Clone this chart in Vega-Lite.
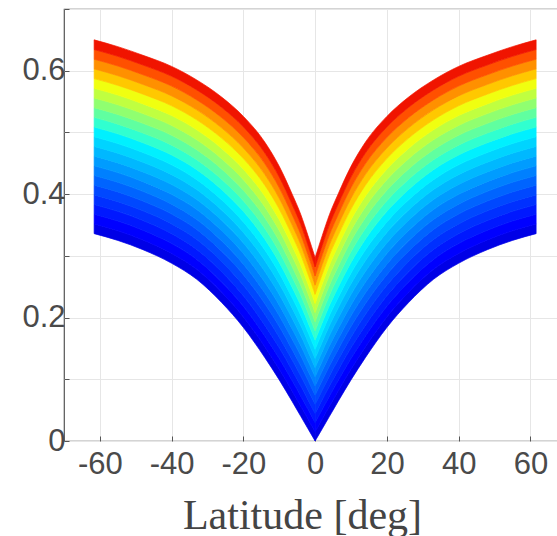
{
  "$schema": "https://vega.github.io/schema/vega-lite/v6.json",
  "width": 494,
  "height": 432,
  "autosize": {"type": "none"},
  "padding": {"left": 64, "top": 9, "right": 0, "bottom": 95},
  "background": "white",
  "config": {
    "view": {"stroke": "#555555", "strokeWidth": 1.2},
    "axis": {
      "labelFont": "Liberation Sans",
      "labelFontSize": 31,
      "labelColor": "#4a4a4a",
      "gridColor": "#e6e6e6",
      "gridWidth": 1,
      "domain": false,
      "tickColor": "#555555",
      "tickSize": -5
    }
  },
  "datasets": {
    "R": [
      {"x":0,"k":0,"v":0},{"x":0,"k":1,"v":0.01485},{"x":0,"k":2,"v":0.01485},{"x":0,"k":3,"v":0.01485},{"x":0,"k":4,"v":0.01485},{"x":0,"k":5,"v":0.01485},{"x":0,"k":6,"v":0.01485},{"x":0,"k":7,"v":0.01485},{"x":0,"k":8,"v":0.01485},{"x":0,"k":9,"v":0.01485},{"x":0,"k":10,"v":0.01485},{"x":0,"k":11,"v":0.01485},{"x":0,"k":12,"v":0.01485},{"x":0,"k":13,"v":0.01485},{"x":0,"k":14,"v":0.01485},{"x":0,"k":15,"v":0.01485},{"x":0,"k":16,"v":0.01485},{"x":0,"k":17,"v":0.01485},{"x":0,"k":18,"v":0.01485},{"x":0,"k":19,"v":0.01485},{"x":0,"k":20,"v":0.01485},
      {"x":2,"k":0,"v":0.02},{"x":2,"k":1,"v":0.01565},{"x":2,"k":2,"v":0.01565},{"x":2,"k":3,"v":0.01565},{"x":2,"k":4,"v":0.01565},{"x":2,"k":5,"v":0.01565},{"x":2,"k":6,"v":0.01565},{"x":2,"k":7,"v":0.01565},{"x":2,"k":8,"v":0.01565},{"x":2,"k":9,"v":0.01565},{"x":2,"k":10,"v":0.01565},{"x":2,"k":11,"v":0.01565},{"x":2,"k":12,"v":0.01565},{"x":2,"k":13,"v":0.01565},{"x":2,"k":14,"v":0.01565},{"x":2,"k":15,"v":0.01565},{"x":2,"k":16,"v":0.01565},{"x":2,"k":17,"v":0.01565},{"x":2,"k":18,"v":0.01565},{"x":2,"k":19,"v":0.01565},{"x":2,"k":20,"v":0.01565},
      {"x":4,"k":0,"v":0.04},{"x":4,"k":1,"v":0.01635},{"x":4,"k":2,"v":0.01635},{"x":4,"k":3,"v":0.01635},{"x":4,"k":4,"v":0.01635},{"x":4,"k":5,"v":0.01635},{"x":4,"k":6,"v":0.01635},{"x":4,"k":7,"v":0.01635},{"x":4,"k":8,"v":0.01635},{"x":4,"k":9,"v":0.01635},{"x":4,"k":10,"v":0.01635},{"x":4,"k":11,"v":0.01635},{"x":4,"k":12,"v":0.01635},{"x":4,"k":13,"v":0.01635},{"x":4,"k":14,"v":0.01635},{"x":4,"k":15,"v":0.01635},{"x":4,"k":16,"v":0.01635},{"x":4,"k":17,"v":0.01635},{"x":4,"k":18,"v":0.01635},{"x":4,"k":19,"v":0.01635},{"x":4,"k":20,"v":0.01635},
      {"x":6.4,"k":0,"v":0.064},{"x":6.4,"k":1,"v":0.0168},{"x":6.4,"k":2,"v":0.0168},{"x":6.4,"k":3,"v":0.0168},{"x":6.4,"k":4,"v":0.0168},{"x":6.4,"k":5,"v":0.0168},{"x":6.4,"k":6,"v":0.0168},{"x":6.4,"k":7,"v":0.0168},{"x":6.4,"k":8,"v":0.0168},{"x":6.4,"k":9,"v":0.0168},{"x":6.4,"k":10,"v":0.0168},{"x":6.4,"k":11,"v":0.0168},{"x":6.4,"k":12,"v":0.0168},{"x":6.4,"k":13,"v":0.0168},{"x":6.4,"k":14,"v":0.0168},{"x":6.4,"k":15,"v":0.0168},{"x":6.4,"k":16,"v":0.0168},{"x":6.4,"k":17,"v":0.0168},{"x":6.4,"k":18,"v":0.0168},{"x":6.4,"k":19,"v":0.0168},{"x":6.4,"k":20,"v":0.0168},
      {"x":10,"k":0,"v":0.099},{"x":10,"k":1,"v":0.0173},{"x":10,"k":2,"v":0.0173},{"x":10,"k":3,"v":0.0173},{"x":10,"k":4,"v":0.0173},{"x":10,"k":5,"v":0.0173},{"x":10,"k":6,"v":0.0173},{"x":10,"k":7,"v":0.0173},{"x":10,"k":8,"v":0.0173},{"x":10,"k":9,"v":0.0173},{"x":10,"k":10,"v":0.0173},{"x":10,"k":11,"v":0.0173},{"x":10,"k":12,"v":0.0173},{"x":10,"k":13,"v":0.0173},{"x":10,"k":14,"v":0.0173},{"x":10,"k":15,"v":0.0173},{"x":10,"k":16,"v":0.0173},{"x":10,"k":17,"v":0.0173},{"x":10,"k":18,"v":0.0173},{"x":10,"k":19,"v":0.0173},{"x":10,"k":20,"v":0.0173},
      {"x":14,"k":0,"v":0.135},{"x":14,"k":1,"v":0.01745},{"x":14,"k":2,"v":0.01745},{"x":14,"k":3,"v":0.01745},{"x":14,"k":4,"v":0.01745},{"x":14,"k":5,"v":0.01745},{"x":14,"k":6,"v":0.01745},{"x":14,"k":7,"v":0.01745},{"x":14,"k":8,"v":0.01745},{"x":14,"k":9,"v":0.01745},{"x":14,"k":10,"v":0.01745},{"x":14,"k":11,"v":0.01745},{"x":14,"k":12,"v":0.01745},{"x":14,"k":13,"v":0.01745},{"x":14,"k":14,"v":0.01745},{"x":14,"k":15,"v":0.01745},{"x":14,"k":16,"v":0.01745},{"x":14,"k":17,"v":0.01745},{"x":14,"k":18,"v":0.01745},{"x":14,"k":19,"v":0.01745},{"x":14,"k":20,"v":0.01745},
      {"x":20,"k":0,"v":0.184},{"x":20,"k":1,"v":0.0171},{"x":20,"k":2,"v":0.0171},{"x":20,"k":3,"v":0.0171},{"x":20,"k":4,"v":0.0171},{"x":20,"k":5,"v":0.0171},{"x":20,"k":6,"v":0.0171},{"x":20,"k":7,"v":0.0171},{"x":20,"k":8,"v":0.0171},{"x":20,"k":9,"v":0.0171},{"x":20,"k":10,"v":0.0171},{"x":20,"k":11,"v":0.0171},{"x":20,"k":12,"v":0.0171},{"x":20,"k":13,"v":0.0171},{"x":20,"k":14,"v":0.0171},{"x":20,"k":15,"v":0.0171},{"x":20,"k":16,"v":0.0171},{"x":20,"k":17,"v":0.0171},{"x":20,"k":18,"v":0.0171},{"x":20,"k":19,"v":0.0171},{"x":20,"k":20,"v":0.0171},
      {"x":26,"k":0,"v":0.224},{"x":26,"k":1,"v":0.01665},{"x":26,"k":2,"v":0.01665},{"x":26,"k":3,"v":0.01665},{"x":26,"k":4,"v":0.01665},{"x":26,"k":5,"v":0.01665},{"x":26,"k":6,"v":0.01665},{"x":26,"k":7,"v":0.01665},{"x":26,"k":8,"v":0.01665},{"x":26,"k":9,"v":0.01665},{"x":26,"k":10,"v":0.01665},{"x":26,"k":11,"v":0.01665},{"x":26,"k":12,"v":0.01665},{"x":26,"k":13,"v":0.01665},{"x":26,"k":14,"v":0.01665},{"x":26,"k":15,"v":0.01665},{"x":26,"k":16,"v":0.01665},{"x":26,"k":17,"v":0.01665},{"x":26,"k":18,"v":0.01665},{"x":26,"k":19,"v":0.01665},{"x":26,"k":20,"v":0.01665},
      {"x":33,"k":0,"v":0.262},{"x":33,"k":1,"v":0.01615},{"x":33,"k":2,"v":0.01615},{"x":33,"k":3,"v":0.01615},{"x":33,"k":4,"v":0.01615},{"x":33,"k":5,"v":0.01615},{"x":33,"k":6,"v":0.01615},{"x":33,"k":7,"v":0.01615},{"x":33,"k":8,"v":0.01615},{"x":33,"k":9,"v":0.01615},{"x":33,"k":10,"v":0.01615},{"x":33,"k":11,"v":0.01615},{"x":33,"k":12,"v":0.01615},{"x":33,"k":13,"v":0.01615},{"x":33,"k":14,"v":0.01615},{"x":33,"k":15,"v":0.01615},{"x":33,"k":16,"v":0.01615},{"x":33,"k":17,"v":0.01615},{"x":33,"k":18,"v":0.01615},{"x":33,"k":19,"v":0.01615},{"x":33,"k":20,"v":0.01615},
      {"x":40,"k":0,"v":0.288},{"x":40,"k":1,"v":0.01595},{"x":40,"k":2,"v":0.01595},{"x":40,"k":3,"v":0.01595},{"x":40,"k":4,"v":0.01595},{"x":40,"k":5,"v":0.01595},{"x":40,"k":6,"v":0.01595},{"x":40,"k":7,"v":0.01595},{"x":40,"k":8,"v":0.01595},{"x":40,"k":9,"v":0.01595},{"x":40,"k":10,"v":0.01595},{"x":40,"k":11,"v":0.01595},{"x":40,"k":12,"v":0.01595},{"x":40,"k":13,"v":0.01595},{"x":40,"k":14,"v":0.01595},{"x":40,"k":15,"v":0.01595},{"x":40,"k":16,"v":0.01595},{"x":40,"k":17,"v":0.01595},{"x":40,"k":18,"v":0.01595},{"x":40,"k":19,"v":0.01595},{"x":40,"k":20,"v":0.01595},
      {"x":48,"k":0,"v":0.31},{"x":48,"k":1,"v":0.01575},{"x":48,"k":2,"v":0.01575},{"x":48,"k":3,"v":0.01575},{"x":48,"k":4,"v":0.01575},{"x":48,"k":5,"v":0.01575},{"x":48,"k":6,"v":0.01575},{"x":48,"k":7,"v":0.01575},{"x":48,"k":8,"v":0.01575},{"x":48,"k":9,"v":0.01575},{"x":48,"k":10,"v":0.01575},{"x":48,"k":11,"v":0.01575},{"x":48,"k":12,"v":0.01575},{"x":48,"k":13,"v":0.01575},{"x":48,"k":14,"v":0.01575},{"x":48,"k":15,"v":0.01575},{"x":48,"k":16,"v":0.01575},{"x":48,"k":17,"v":0.01575},{"x":48,"k":18,"v":0.01575},{"x":48,"k":19,"v":0.01575},{"x":48,"k":20,"v":0.01575},
      {"x":55,"k":0,"v":0.325},{"x":55,"k":1,"v":0.0157},{"x":55,"k":2,"v":0.0157},{"x":55,"k":3,"v":0.0157},{"x":55,"k":4,"v":0.0157},{"x":55,"k":5,"v":0.0157},{"x":55,"k":6,"v":0.0157},{"x":55,"k":7,"v":0.0157},{"x":55,"k":8,"v":0.0157},{"x":55,"k":9,"v":0.0157},{"x":55,"k":10,"v":0.0157},{"x":55,"k":11,"v":0.0157},{"x":55,"k":12,"v":0.0157},{"x":55,"k":13,"v":0.0157},{"x":55,"k":14,"v":0.0157},{"x":55,"k":15,"v":0.0157},{"x":55,"k":16,"v":0.0157},{"x":55,"k":17,"v":0.0157},{"x":55,"k":18,"v":0.0157},{"x":55,"k":19,"v":0.0157},{"x":55,"k":20,"v":0.0157},
      {"x":61.6,"k":0,"v":0.336},{"x":61.6,"k":1,"v":0.0157},{"x":61.6,"k":2,"v":0.0157},{"x":61.6,"k":3,"v":0.0157},{"x":61.6,"k":4,"v":0.0157},{"x":61.6,"k":5,"v":0.0157},{"x":61.6,"k":6,"v":0.0157},{"x":61.6,"k":7,"v":0.0157},{"x":61.6,"k":8,"v":0.0157},{"x":61.6,"k":9,"v":0.0157},{"x":61.6,"k":10,"v":0.0157},{"x":61.6,"k":11,"v":0.0157},{"x":61.6,"k":12,"v":0.0157},{"x":61.6,"k":13,"v":0.0157},{"x":61.6,"k":14,"v":0.0157},{"x":61.6,"k":15,"v":0.0157},{"x":61.6,"k":16,"v":0.0157},{"x":61.6,"k":17,"v":0.0157},{"x":61.6,"k":18,"v":0.0157},{"x":61.6,"k":19,"v":0.0157},{"x":61.6,"k":20,"v":0.0157}
    ],
    "L": [
      {"x":0,"k":0,"v":0},{"x":0,"k":1,"v":0.01485},{"x":0,"k":2,"v":0.01485},{"x":0,"k":3,"v":0.01485},{"x":0,"k":4,"v":0.01485},{"x":0,"k":5,"v":0.01485},{"x":0,"k":6,"v":0.01485},{"x":0,"k":7,"v":0.01485},{"x":0,"k":8,"v":0.01485},{"x":0,"k":9,"v":0.01485},{"x":0,"k":10,"v":0.01485},{"x":0,"k":11,"v":0.01485},{"x":0,"k":12,"v":0.01485},{"x":0,"k":13,"v":0.01485},{"x":0,"k":14,"v":0.01485},{"x":0,"k":15,"v":0.01485},{"x":0,"k":16,"v":0.01485},{"x":0,"k":17,"v":0.01485},{"x":0,"k":18,"v":0.01485},{"x":0,"k":19,"v":0.01485},{"x":0,"k":20,"v":0.01485},
      {"x":-2,"k":0,"v":0.02},{"x":-2,"k":1,"v":0.01565},{"x":-2,"k":2,"v":0.01565},{"x":-2,"k":3,"v":0.01565},{"x":-2,"k":4,"v":0.01565},{"x":-2,"k":5,"v":0.01565},{"x":-2,"k":6,"v":0.01565},{"x":-2,"k":7,"v":0.01565},{"x":-2,"k":8,"v":0.01565},{"x":-2,"k":9,"v":0.01565},{"x":-2,"k":10,"v":0.01565},{"x":-2,"k":11,"v":0.01565},{"x":-2,"k":12,"v":0.01565},{"x":-2,"k":13,"v":0.01565},{"x":-2,"k":14,"v":0.01565},{"x":-2,"k":15,"v":0.01565},{"x":-2,"k":16,"v":0.01565},{"x":-2,"k":17,"v":0.01565},{"x":-2,"k":18,"v":0.01565},{"x":-2,"k":19,"v":0.01565},{"x":-2,"k":20,"v":0.01565},
      {"x":-4,"k":0,"v":0.04},{"x":-4,"k":1,"v":0.01635},{"x":-4,"k":2,"v":0.01635},{"x":-4,"k":3,"v":0.01635},{"x":-4,"k":4,"v":0.01635},{"x":-4,"k":5,"v":0.01635},{"x":-4,"k":6,"v":0.01635},{"x":-4,"k":7,"v":0.01635},{"x":-4,"k":8,"v":0.01635},{"x":-4,"k":9,"v":0.01635},{"x":-4,"k":10,"v":0.01635},{"x":-4,"k":11,"v":0.01635},{"x":-4,"k":12,"v":0.01635},{"x":-4,"k":13,"v":0.01635},{"x":-4,"k":14,"v":0.01635},{"x":-4,"k":15,"v":0.01635},{"x":-4,"k":16,"v":0.01635},{"x":-4,"k":17,"v":0.01635},{"x":-4,"k":18,"v":0.01635},{"x":-4,"k":19,"v":0.01635},{"x":-4,"k":20,"v":0.01635},
      {"x":-6.4,"k":0,"v":0.064},{"x":-6.4,"k":1,"v":0.0168},{"x":-6.4,"k":2,"v":0.0168},{"x":-6.4,"k":3,"v":0.0168},{"x":-6.4,"k":4,"v":0.0168},{"x":-6.4,"k":5,"v":0.0168},{"x":-6.4,"k":6,"v":0.0168},{"x":-6.4,"k":7,"v":0.0168},{"x":-6.4,"k":8,"v":0.0168},{"x":-6.4,"k":9,"v":0.0168},{"x":-6.4,"k":10,"v":0.0168},{"x":-6.4,"k":11,"v":0.0168},{"x":-6.4,"k":12,"v":0.0168},{"x":-6.4,"k":13,"v":0.0168},{"x":-6.4,"k":14,"v":0.0168},{"x":-6.4,"k":15,"v":0.0168},{"x":-6.4,"k":16,"v":0.0168},{"x":-6.4,"k":17,"v":0.0168},{"x":-6.4,"k":18,"v":0.0168},{"x":-6.4,"k":19,"v":0.0168},{"x":-6.4,"k":20,"v":0.0168},
      {"x":-10,"k":0,"v":0.099},{"x":-10,"k":1,"v":0.0173},{"x":-10,"k":2,"v":0.0173},{"x":-10,"k":3,"v":0.0173},{"x":-10,"k":4,"v":0.0173},{"x":-10,"k":5,"v":0.0173},{"x":-10,"k":6,"v":0.0173},{"x":-10,"k":7,"v":0.0173},{"x":-10,"k":8,"v":0.0173},{"x":-10,"k":9,"v":0.0173},{"x":-10,"k":10,"v":0.0173},{"x":-10,"k":11,"v":0.0173},{"x":-10,"k":12,"v":0.0173},{"x":-10,"k":13,"v":0.0173},{"x":-10,"k":14,"v":0.0173},{"x":-10,"k":15,"v":0.0173},{"x":-10,"k":16,"v":0.0173},{"x":-10,"k":17,"v":0.0173},{"x":-10,"k":18,"v":0.0173},{"x":-10,"k":19,"v":0.0173},{"x":-10,"k":20,"v":0.0173},
      {"x":-14,"k":0,"v":0.135},{"x":-14,"k":1,"v":0.01745},{"x":-14,"k":2,"v":0.01745},{"x":-14,"k":3,"v":0.01745},{"x":-14,"k":4,"v":0.01745},{"x":-14,"k":5,"v":0.01745},{"x":-14,"k":6,"v":0.01745},{"x":-14,"k":7,"v":0.01745},{"x":-14,"k":8,"v":0.01745},{"x":-14,"k":9,"v":0.01745},{"x":-14,"k":10,"v":0.01745},{"x":-14,"k":11,"v":0.01745},{"x":-14,"k":12,"v":0.01745},{"x":-14,"k":13,"v":0.01745},{"x":-14,"k":14,"v":0.01745},{"x":-14,"k":15,"v":0.01745},{"x":-14,"k":16,"v":0.01745},{"x":-14,"k":17,"v":0.01745},{"x":-14,"k":18,"v":0.01745},{"x":-14,"k":19,"v":0.01745},{"x":-14,"k":20,"v":0.01745},
      {"x":-20,"k":0,"v":0.184},{"x":-20,"k":1,"v":0.0171},{"x":-20,"k":2,"v":0.0171},{"x":-20,"k":3,"v":0.0171},{"x":-20,"k":4,"v":0.0171},{"x":-20,"k":5,"v":0.0171},{"x":-20,"k":6,"v":0.0171},{"x":-20,"k":7,"v":0.0171},{"x":-20,"k":8,"v":0.0171},{"x":-20,"k":9,"v":0.0171},{"x":-20,"k":10,"v":0.0171},{"x":-20,"k":11,"v":0.0171},{"x":-20,"k":12,"v":0.0171},{"x":-20,"k":13,"v":0.0171},{"x":-20,"k":14,"v":0.0171},{"x":-20,"k":15,"v":0.0171},{"x":-20,"k":16,"v":0.0171},{"x":-20,"k":17,"v":0.0171},{"x":-20,"k":18,"v":0.0171},{"x":-20,"k":19,"v":0.0171},{"x":-20,"k":20,"v":0.0171},
      {"x":-26,"k":0,"v":0.224},{"x":-26,"k":1,"v":0.01665},{"x":-26,"k":2,"v":0.01665},{"x":-26,"k":3,"v":0.01665},{"x":-26,"k":4,"v":0.01665},{"x":-26,"k":5,"v":0.01665},{"x":-26,"k":6,"v":0.01665},{"x":-26,"k":7,"v":0.01665},{"x":-26,"k":8,"v":0.01665},{"x":-26,"k":9,"v":0.01665},{"x":-26,"k":10,"v":0.01665},{"x":-26,"k":11,"v":0.01665},{"x":-26,"k":12,"v":0.01665},{"x":-26,"k":13,"v":0.01665},{"x":-26,"k":14,"v":0.01665},{"x":-26,"k":15,"v":0.01665},{"x":-26,"k":16,"v":0.01665},{"x":-26,"k":17,"v":0.01665},{"x":-26,"k":18,"v":0.01665},{"x":-26,"k":19,"v":0.01665},{"x":-26,"k":20,"v":0.01665},
      {"x":-33,"k":0,"v":0.262},{"x":-33,"k":1,"v":0.01615},{"x":-33,"k":2,"v":0.01615},{"x":-33,"k":3,"v":0.01615},{"x":-33,"k":4,"v":0.01615},{"x":-33,"k":5,"v":0.01615},{"x":-33,"k":6,"v":0.01615},{"x":-33,"k":7,"v":0.01615},{"x":-33,"k":8,"v":0.01615},{"x":-33,"k":9,"v":0.01615},{"x":-33,"k":10,"v":0.01615},{"x":-33,"k":11,"v":0.01615},{"x":-33,"k":12,"v":0.01615},{"x":-33,"k":13,"v":0.01615},{"x":-33,"k":14,"v":0.01615},{"x":-33,"k":15,"v":0.01615},{"x":-33,"k":16,"v":0.01615},{"x":-33,"k":17,"v":0.01615},{"x":-33,"k":18,"v":0.01615},{"x":-33,"k":19,"v":0.01615},{"x":-33,"k":20,"v":0.01615},
      {"x":-40,"k":0,"v":0.288},{"x":-40,"k":1,"v":0.01595},{"x":-40,"k":2,"v":0.01595},{"x":-40,"k":3,"v":0.01595},{"x":-40,"k":4,"v":0.01595},{"x":-40,"k":5,"v":0.01595},{"x":-40,"k":6,"v":0.01595},{"x":-40,"k":7,"v":0.01595},{"x":-40,"k":8,"v":0.01595},{"x":-40,"k":9,"v":0.01595},{"x":-40,"k":10,"v":0.01595},{"x":-40,"k":11,"v":0.01595},{"x":-40,"k":12,"v":0.01595},{"x":-40,"k":13,"v":0.01595},{"x":-40,"k":14,"v":0.01595},{"x":-40,"k":15,"v":0.01595},{"x":-40,"k":16,"v":0.01595},{"x":-40,"k":17,"v":0.01595},{"x":-40,"k":18,"v":0.01595},{"x":-40,"k":19,"v":0.01595},{"x":-40,"k":20,"v":0.01595},
      {"x":-48,"k":0,"v":0.31},{"x":-48,"k":1,"v":0.01575},{"x":-48,"k":2,"v":0.01575},{"x":-48,"k":3,"v":0.01575},{"x":-48,"k":4,"v":0.01575},{"x":-48,"k":5,"v":0.01575},{"x":-48,"k":6,"v":0.01575},{"x":-48,"k":7,"v":0.01575},{"x":-48,"k":8,"v":0.01575},{"x":-48,"k":9,"v":0.01575},{"x":-48,"k":10,"v":0.01575},{"x":-48,"k":11,"v":0.01575},{"x":-48,"k":12,"v":0.01575},{"x":-48,"k":13,"v":0.01575},{"x":-48,"k":14,"v":0.01575},{"x":-48,"k":15,"v":0.01575},{"x":-48,"k":16,"v":0.01575},{"x":-48,"k":17,"v":0.01575},{"x":-48,"k":18,"v":0.01575},{"x":-48,"k":19,"v":0.01575},{"x":-48,"k":20,"v":0.01575},
      {"x":-55,"k":0,"v":0.325},{"x":-55,"k":1,"v":0.0157},{"x":-55,"k":2,"v":0.0157},{"x":-55,"k":3,"v":0.0157},{"x":-55,"k":4,"v":0.0157},{"x":-55,"k":5,"v":0.0157},{"x":-55,"k":6,"v":0.0157},{"x":-55,"k":7,"v":0.0157},{"x":-55,"k":8,"v":0.0157},{"x":-55,"k":9,"v":0.0157},{"x":-55,"k":10,"v":0.0157},{"x":-55,"k":11,"v":0.0157},{"x":-55,"k":12,"v":0.0157},{"x":-55,"k":13,"v":0.0157},{"x":-55,"k":14,"v":0.0157},{"x":-55,"k":15,"v":0.0157},{"x":-55,"k":16,"v":0.0157},{"x":-55,"k":17,"v":0.0157},{"x":-55,"k":18,"v":0.0157},{"x":-55,"k":19,"v":0.0157},{"x":-55,"k":20,"v":0.0157},
      {"x":-61.6,"k":0,"v":0.336},{"x":-61.6,"k":1,"v":0.0157},{"x":-61.6,"k":2,"v":0.0157},{"x":-61.6,"k":3,"v":0.0157},{"x":-61.6,"k":4,"v":0.0157},{"x":-61.6,"k":5,"v":0.0157},{"x":-61.6,"k":6,"v":0.0157},{"x":-61.6,"k":7,"v":0.0157},{"x":-61.6,"k":8,"v":0.0157},{"x":-61.6,"k":9,"v":0.0157},{"x":-61.6,"k":10,"v":0.0157},{"x":-61.6,"k":11,"v":0.0157},{"x":-61.6,"k":12,"v":0.0157},{"x":-61.6,"k":13,"v":0.0157},{"x":-61.6,"k":14,"v":0.0157},{"x":-61.6,"k":15,"v":0.0157},{"x":-61.6,"k":16,"v":0.0157},{"x":-61.6,"k":17,"v":0.0157},{"x":-61.6,"k":18,"v":0.0157},{"x":-61.6,"k":19,"v":0.0157},{"x":-61.6,"k":20,"v":0.0157}
    ]
  },
  "encoding": {
    "x": {
      "field": "x",
      "type": "quantitative",
      "scale": {"domain": [-70, 67.7], "nice": false, "zero": false},
      "axis": {
        "values": [-60, -40, -20, 0, 20, 40, 60],
        "grid": true,
        "labelPadding": 13,
        "labelExpr": "datum.value < 0 ? '-' + abs(datum.value) : '' + datum.value",
        "title": "Latitude [deg]",
        "titleFont": "Liberation Serif",
        "titleFontSize": 42,
        "titleFontWeight": "normal",
        "titleColor": "#444444",
        "titleX": 238,
        "titleY": 87,
        "titleAlign": "center",
        "titleBaseline": "alphabetic"
      }
    },
    "y": {
      "field": "v",
      "type": "quantitative",
      "stack": "zero",
      "scale": {"domain": [0, 0.7], "nice": false, "zero": true},
      "axis": {
        "values": [0, 0.1, 0.2, 0.3, 0.4, 0.5, 0.6, 0.7],
        "grid": true,
        "labelPadding": 4,
        "labelExpr": "round(datum.value*10) % 2 == 0 ? (datum.value == 0 ? '0' : format(datum.value, '.1f')) : ''",
        "title": null
      }
    },
    "color": {
      "field": "k",
      "type": "ordinal",
      "scale": {
        "domain": [0,1,2,3,4,5,6,7,8,9,10,11,12,13,14,15,16,17,18,19,20],
        "range": ["rgba(0,0,0,0)","#0000e6","#0000ff","#0018ff","#0030ff","#0048ff","#0064ff","#0080ff","#009cff","#00b8ff","#00d4ff","#00f0ff","#30ffd0","#60ffa0","#90ff70","#c0ff40","#f0ff10","#ffc800","#ff9000","#ff5000","#f01400"]
      },
      "legend": null
    },
    "stroke": {
      "field": "k",
      "type": "ordinal",
      "scale": {
        "domain": [0,1,2,3,4,5,6,7,8,9,10,11,12,13,14,15,16,17,18,19,20],
        "range": ["rgba(0,0,0,0)","#0000e6","#0000ff","#0018ff","#0030ff","#0048ff","#0064ff","#0080ff","#009cff","#00b8ff","#00d4ff","#00f0ff","#30ffd0","#60ffa0","#90ff70","#c0ff40","#f0ff10","#ffc800","#ff9000","#ff5000","#f01400"]
      },
      "legend": null
    },
    "order": {"field": "k", "type": "quantitative", "sort": "ascending"}
  },
  "layer": [
    {"data": {"name": "L"}, "mark": {"type": "area", "interpolate": "monotone", "strokeWidth": 0.7}},
    {"data": {"name": "R"}, "mark": {"type": "area", "interpolate": "monotone", "strokeWidth": 0.7}}
  ]
}
